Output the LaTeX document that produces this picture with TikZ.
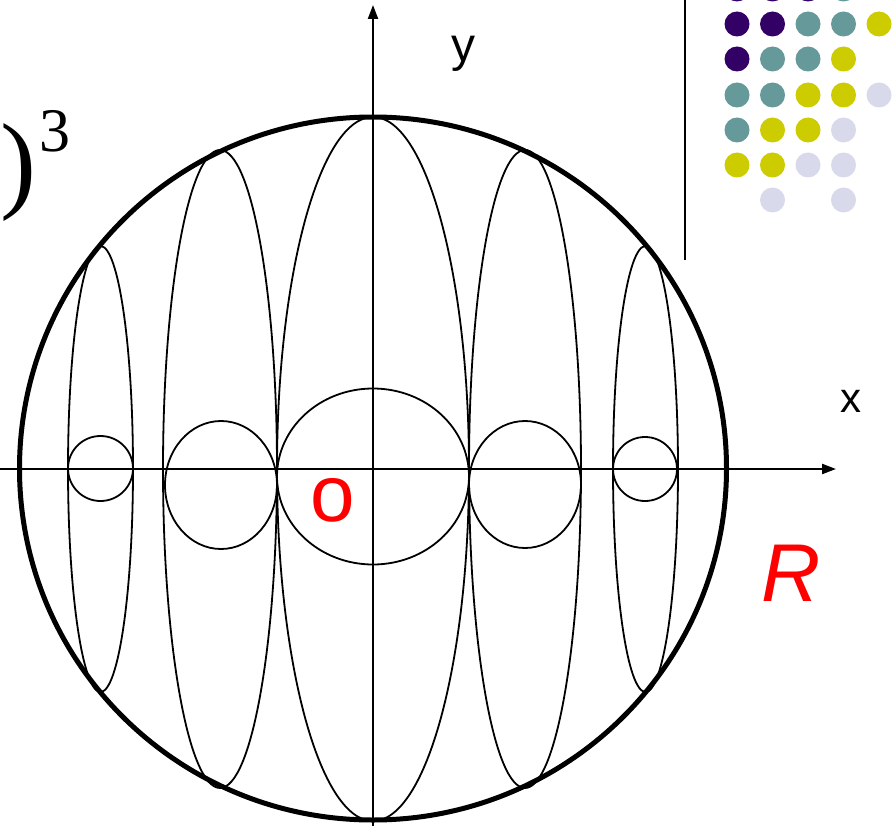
\documentclass[tikz,border=0pt]{standalone}
\usepackage{fontspec}
\setmainfont{Liberation Serif}
\setsansfont{Liberation Sans}
\usetikzlibrary{arrows.meta}
\definecolor{dpurple}{HTML}{330066}
\definecolor{dteal}{HTML}{669999}
\definecolor{dyellow}{HTML}{CCCC00}
\definecolor{dlav}{HTML}{D9D9EC}
\begin{document}
\begin{tikzpicture}[x=1pt,y=-1pt,
  thinline/.style={line width=1.8pt},
  axisline/.style={line width=2.2pt,-{Triangle[length=14pt,width=10pt]}},
  bigcirc/.style={line width=5pt},
  lbl/.style={inner sep=0pt,anchor=base,font=\sffamily},
  dot/.style={circle,inner sep=0pt,minimum size=25pt,draw=none}]
\useasboundingbox (0,0) rectangle (893,826);
\fill[white] (0,0) rectangle (893,826);
% axes ends
\coordinate (xs) at (0,469);
\coordinate (xe) at (836,469);
\coordinate (ys) at (373,826);
\coordinate (ye) at (373,5);
% vertical ellipses
\draw[thinline] (373,469) ellipse [x radius=96, y radius=352];
\draw[thinline] (220,469) ellipse [x radius=57, y radius=319];
\draw[thinline] (525,469) ellipse [x radius=56, y radius=319];
\draw[thinline] (100.5,469) ellipse [x radius=32.5, y radius=223];
\draw[thinline] (645.5,469) ellipse [x radius=32.5, y radius=223];
% horizontal cross sections
\draw[thinline] (373,476.5) ellipse [x radius=96, y radius=88];
\draw[thinline] (221,485) ellipse [x radius=56, y radius=64];
\draw[thinline] (525,484.5) ellipse [x radius=56, y radius=63.5];
\draw[thinline] (100.5,468.5) ellipse [x radius=32.5, y radius=32.5];
\draw[thinline] (645,469) ellipse [x radius=32, y radius=32];
% sphere outline
\draw[bigcirc] (373,468.5) ellipse [x radius=353.5, y radius=351.5];
% axes
\draw[axisline] (xs) -- (xe);
\draw[axisline] (ys) -- (ye);
% labels
\node[lbl,font=\sffamily\fontsize{48}{48}\selectfont] (ylab) at (463,62) {y};
\node[lbl,font=\sffamily\fontsize{42}{42}\selectfont] (xlab) at (851,412) {x};
\node[lbl,text=red,font=\sffamily\fontsize{80}{80}\selectfont] (olab) at (333,521) {o};
\node[lbl,text=red,font=\sffamily\itshape\fontsize{82}{82}\selectfont] (rlab) at (791,601) {R};
\node[inner sep=0pt,anchor=base east,font=\fontsize{108}{108}\selectfont] (paren) at (37,199) {)};
\node[inner sep=0pt,anchor=base west,font=\fontsize{62}{62}\selectfont] (cube) at (39,152) {3};
% top right panel
\coordinate (ptop) at (685,0);
\coordinate (pbot) at (685,260);
\draw[line width=2pt] (ptop) -- (pbot);
\foreach \r/\cols in {-11/{1/dpurple,2/dpurple,3/dpurple,4/dteal},
  24/{1/dpurple,2/dpurple,3/dteal,4/dteal,5/dyellow},
  59/{1/dpurple,2/dteal,3/dteal,4/dyellow},
  95/{1/dteal,2/dteal,3/dyellow,4/dyellow,5/dlav},
  130/{1/dteal,2/dyellow,3/dyellow,4/dlav},
  165/{1/dyellow,2/dyellow,3/dlav,4/dlav},
  200/{2/dlav,4/dlav}}{
  \foreach \c/\col in \cols {
    \node[dot,fill=\col] (d\r-\c) at ({737+35.5*(\c-1)},\r) {};
  }
}
\end{tikzpicture}
\end{document}
